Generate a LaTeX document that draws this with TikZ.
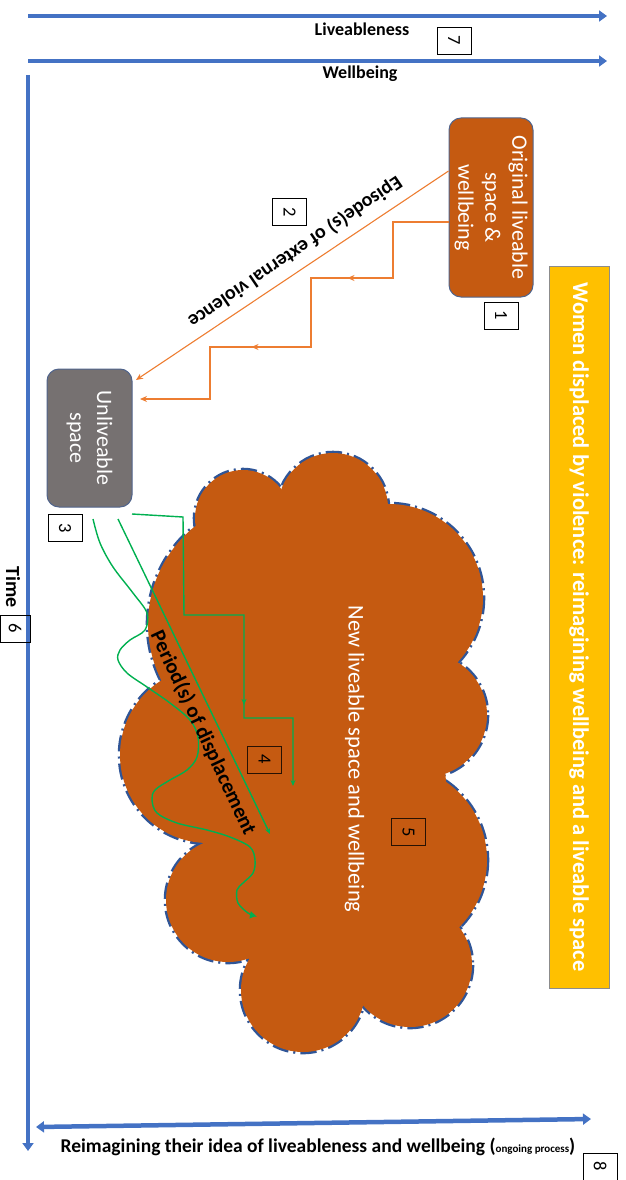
\documentclass[tikz,border=0pt]{standalone}
\usepackage{fontspec}
\setmainfont{Carlito}
\usetikzlibrary{arrows.meta,decorations.markings}
\definecolor{axisblue}{RGB}{68,114,196}
\definecolor{rust}{RGB}{197,90,17}
\definecolor{slate}{RGB}{118,113,113}
\definecolor{amber}{RGB}{255,192,0}
\definecolor{violenceorange}{RGB}{237,125,49}
\definecolor{pathgreen}{RGB}{0,176,80}
\definecolor{cloudblue}{RGB}{47,85,151}
\definecolor{boxedge}{RGB}{80,100,140}

\begin{document}
\begin{tikzpicture}[x=1pt,y=-1pt,
  numbox/.style={draw=black,line width=0.7pt,rotate=-90,minimum width=27pt,minimum height=34pt,inner sep=0pt,font=\fontsize{18.5}{18.5}\selectfont},
  axisarrow/.style={draw=axisblue,line width=4.5pt,-{Triangle[length=8pt,width=11pt]}},
  heading/.style={font=\bfseries\fontsize{18}{18}\selectfont,inner sep=0pt},
  roundbox/.style={rounded corners=12pt,draw=boxedge,line width=1pt,rotate=-90,text=white,align=center,inner sep=0pt,font=\fontsize{22}{27}\selectfont},
  violence/.style={draw=violenceorange,line width=1.1pt},
  displacement/.style={draw=pathgreen,line width=1.4pt},
  smalltip/.style={-{Stealth[length=7pt,width=6pt]}},
  cloudedge/.style={draw=cloudblue,line width=4.6pt,dash pattern=on 16pt off 5pt on 2pt off 5pt},
  cloudfill/.style={fill=rust}
]
\useasboundingbox (0,0) rectangle (626,1180);

% ---------- cloud: union of puffs with a dash-dot rim ----------
\def\puffs{243/518/48, 333/508/55, 389/598/94, 425/715/62, 392/860/95,
  410/965/62, 303/990/62, 228/900/62, 208/755/88, 273/624/125}
\foreach \cx/\cy/\r in \puffs {\path[cloudedge] (\cx,\cy) circle[radius=\r];}
\foreach \cx/\cy/\r in \puffs {\path[cloudfill] (\cx,\cy) circle[radius=\r];}
\path[cloudfill] (196,530) -- (281,492) -- (385,508) -- (455,668) -- (445,770)
  -- (460,938) -- (356,994) -- (247,958) -- (205,838) -- (163,683) -- cycle;
\node[rotate=-90,text=white,font=\fontsize{22.5}{22.5}\selectfont] (newspace) at (354.5,759) {New liveable space and wellbeing};
\node[numbox,draw=black!80!rust] (n5) at (408.5,832) {5};

% ---------- axes ----------
\coordinate (liveS) at (28,16);
\coordinate (liveE) at (607,16);
\draw[axisarrow] (liveS) -- (liveE);
\node[heading] (live) at (362,29) {Liveableness};
\node[numbox] (n7) at (454,40.5) {7};
\coordinate (wellS) at (28,61);
\coordinate (wellE) at (607,61);
\draw[axisarrow] (wellS) -- (wellE);
\node[heading] (well) at (360,74) {Wellbeing};

\coordinate (timeS) at (28,75);
\coordinate (timeE) at (28,1151);
\draw[axisarrow] (timeS) -- (timeE);
\node[heading,rotate=-90,font=\bfseries\fontsize{20}{20}\selectfont] (time) at (13,587) {Time};
\node[numbox,minimum height=30pt] (n6) at (15,628.5) {6};

\coordinate (reL) at (36,1127);
\coordinate (reR) at (591,1119);
\draw[axisarrow,{Triangle[length=8pt,width=11pt]}-{Triangle[length=8pt,width=11pt]}] (reL) -- (reR);
\node[font=\bfseries\fontsize{19.5}{19.5}\selectfont,inner sep=0pt] (reimag) at (318,1147)
  {Reimagining their idea of liveableness and wellbeing ({\fontsize{11}{11}\selectfont ongoing process})};
\node[numbox] (n8) at (600,1166.5) {8};

% ---------- places ----------
\node[roundbox,fill=rust,minimum width=179pt,minimum height=84pt] (orig) at (491,207.5)
  {Original liveable\\space \&\\wellbeing};
\node[numbox] (n1) at (501,315.5) {1};
\node[roundbox,fill=slate,minimum width=138pt,minimum height=85pt] (unl) at (89.5,438)
  {Unliveable\\space};
\node[numbox] (n3) at (65,528) {3};
\node[rotate=-90,fill=amber,draw=black!45,line width=0.8pt,minimum width=722pt,minimum height=60pt,
  text=white,font=\bfseries\fontsize{22.5}{22.5}\selectfont,inner sep=0pt] (women) at (579,627)
  {Women displaced by violence: reimagining wellbeing and a liveable space};

% ---------- episodes of violence ----------
\coordinate (vEnd1) at (136,380);
\coordinate (vEnd2) at (140,399);
\draw[violence,smalltip] (orig.south |- 0,171) -- (vEnd1);
\draw[violence,smalltip,postaction={decorate},
  decoration={markings,
    mark=at position 157pt with {\arrow{Stealth[length=7pt,width=6pt]}},
    mark=at position 322pt with {\arrow{Stealth[length=7pt,width=6pt]}}}]
  (orig.south |- 0,222) -- (393,222) -- (393,278) -- (311,278) -- (311,347)
  -- (210,347) -- (210,399) -- (vEnd2);
\node[font=\bfseries\fontsize{20}{20}\selectfont,rotate=214.2,inner sep=0pt] (episode) at (295,252)
  {Episode(s) of external violence};
\node[numbox] (n2) at (289.5,212) {2};

% ---------- displacement paths ----------
\coordinate (gStraightS) at (118,519);
\coordinate (gStraightE) at (270,834);
\draw[displacement,-{Stealth[length=6pt,width=5pt]}] (gStraightS) -- (gStraightE);
\coordinate (gStepS) at (132,514);
\coordinate (gStepE) at (293,786);
\draw[displacement,-{Stealth[length=6pt,width=5pt]},postaction={decorate},
  decoration={markings,mark=at position 299pt with {\arrow{Stealth[length=6pt,width=5pt]}}}]
  (gStepS) -- (183,517) -- (184,615) -- (244,615) -- (244,718) -- (293,718) -- (gStepE);
\draw[displacement,-{Triangle[open,length=6pt,width=7pt]}] plot[smooth,tension=0.55] coordinates {
  (93,519) (100,543) (113,567) (133,593) (147,613) (145,630) (130,640) (120,650) (118,660)
  (127,673) (147,687) (170,703) (190,720) (198,737) (197,757) (187,770) (170,780) (155,790)
  (152,800) (157,813) (177,823) (207,830) (230,837) (250,847) (255,860) (253,873) (243,883)
  (237,890) (238,903) (248,913) (256,916)};
\node[font=\bfseries\fontsize{21}{21}\selectfont,rotate=-64.9,inner sep=0pt] (period) at (203,733)
  {Period(s) of displacement};
\node[numbox,draw=black!80!rust] (n4) at (264.5,759.5) {4};
\end{tikzpicture}
\end{document}
